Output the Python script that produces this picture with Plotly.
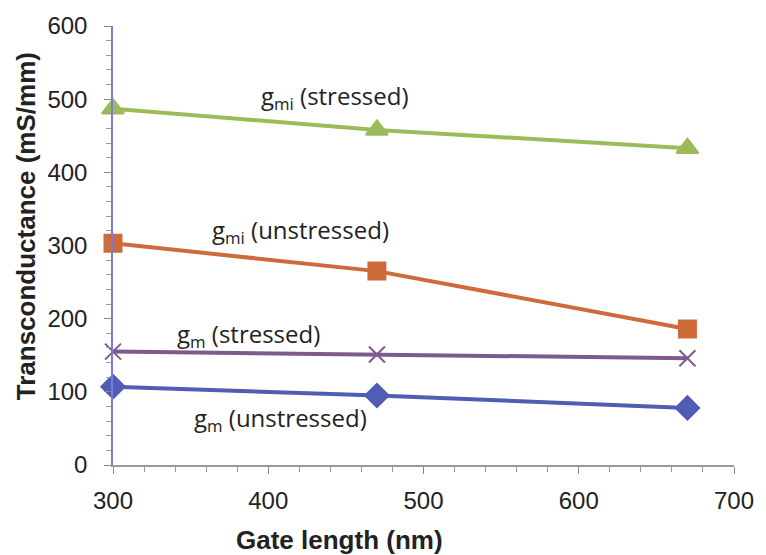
import plotly.graph_objects as go

gate_length = [300, 470, 670]
gmi_stressed = [487, 458, 433]
gmi_unstressed = [303, 265, 186]
gm_stressed = [155, 151, 146]
gm_unstressed = [107, 95, 78]

x_ticks = [300, 400, 500, 600, 700]
y_ticks = [0, 100, 200, 300, 400, 500, 600]

fig = go.Figure()
series = [
    (gmi_stressed, "#9bbb59", "triangle-up", 19),
    (gmi_unstressed, "#cf6a3a", "square", 17),
    (gm_stressed, "#7d5b8c", "x-thin", 16),
    (gm_unstressed, "#4f5db3", "diamond", 18),
]
for ys, col, sym, sz in series:
    fig.add_trace(go.Scatter(
        x=gate_length, y=ys, mode="lines+markers",
        line=dict(color=col, width=4),
        marker=dict(symbol=sym, size=sz, color=col,
                    line=dict(color=col, width=2)),
        showlegend=False, cliponaxis=False))

ann_font = dict(family="Open Sans", size=24, color="#222")
labels = [
    ("g<sub>mi</sub> (stressed)", 443, 503),
    ("g<sub>mi</sub> (unstressed)", 421, 320),
    ("g<sub>m</sub> (stressed)", 387, 178),
    ("g<sub>m</sub> (unstressed)", 408, 63),
]
for txt, xv, yv in labels:
    fig.add_annotation(x=xv, xref="x", y=yv, yref="y", text=txt,
                       showarrow=False, font=ann_font, yanchor="middle")

title_font = dict(family="Arial", size=26, color="#222")
# axis titles (placed as in the reference, off-centre)
fig.add_annotation(x=0.365, xref="paper", y=-0.170, yref="paper",
                   text="<b>Gate length (nm)</b>", showarrow=False,
                   font=title_font, xanchor="center", yanchor="middle")
fig.add_annotation(x=-0.140, xref="paper", y=0.544, yref="paper",
                   text="<b>Transconductance (mS/mm)</b>", showarrow=False,
                   textangle=-90, font=title_font,
                   xanchor="center", yanchor="middle")

axis_common = dict(
    showgrid=False, zeroline=False, showline=True,
    ticks="outside", ticklen=7, tickwidth=1, tickcolor="#888",
    tickfont=dict(family="Arial", size=24, color="#222"),
)
fig.update_xaxes(
    range=[300, 700], tickvals=x_ticks, linecolor="#999", linewidth=1.5,
    minor=dict(dtick=20, ticks="outside", ticklen=5, tickcolor="#999"),
    ticklabelstandoff=6,
    **axis_common)
fig.update_yaxes(
    range=[0, 600], tickvals=y_ticks, linecolor="#7b7bdc", linewidth=1.5,
    minor=dict(dtick=20, ticks="outside", ticklen=5, tickcolor="#999"),
    ticklabelstandoff=12,
    **axis_common)

fig.update_layout(
    width=766, height=555,
    margin=dict(l=113, r=26, t=24, b=90),
    paper_bgcolor="white", plot_bgcolor="white",
)
fig.write_html("out.html")
